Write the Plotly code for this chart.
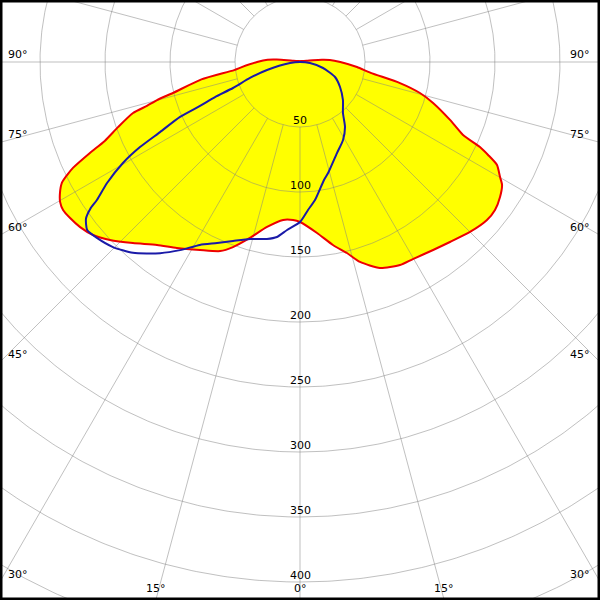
import numpy as np
import plotly.graph_objects as go

# C0-C180 plane (red outline, yellow fill): gamma in degrees (0 = straight down), intensity cd/klm
red_gamma = [-180, -140, -110, -100, -98, -96, -94, -90, -85, -83, -80, -76.3, -75.1, -74, -73,
             -70.3, -68, -66.6, -65, -64.1, -63.1, -61.4, -59.7, -58, -55.9, -53.1, -50.1, -46.9,
             -42.7, -38, -33.5, -28, -22.9, -19.9, -15.9, -11.3, -6.1, -2.5, 0, 5.7, 10.2, 13.8,
             16.7, 21.2, 26.2, 29.8, 35.3, 39.8, 45, 49.8, 52.8, 56, 58.7, 60.1, 62.4, 63.7, 64.7,
             65.9, 68.9, 72.9, 75.5, 78.1, 81.3, 85, 90, 94, 96, 98, 100, 110, 140, 180]
red_value = [0, 1, 2, 5, 10, 18, 25, 33, 45, 51, 77, 100.6, 113.8, 122.5, 134.3,
             148.7, 162, 176.1, 192.7, 199.2, 205.4, 210.3, 213.7, 214.9, 213.8, 211.5, 207.5, 200.3,
             189.5, 178.6, 171.6, 163.8, 157.9, 151.4, 140.7, 129.4, 122.2, 121.7, 123.1, 132.2, 143, 151.3,
             160.6, 170, 174.1, 174.7, 177.2, 180.2, 184.9, 188.3, 188.3, 185.6, 181.9, 177.5, 171, 161.4, 153.1,
             137.4, 123.7, 107.1, 95.3, 78.6, 55, 44, 31, 23, 17, 10, 5, 2, 1, 0]

# C90-C270 plane (blue outline)
blue_gamma = [-90, -84, -76.4, -72.3, -68.8, -67.6, -66.3, -65.4, -63.4, -62, -60.3, -57.9, -55.8,
              -55.0, -53.8, -51.7, -49.1, -45.3, -41.2, -36.2, -32.5, -28.7, -24.6, -20.5, -15.8,
              -10.6, -7.5, -4.4, 0, 3.1, 6.2, 11.5, 14.2, 22.1, 28.9, 34.7, 40.1, 48.5, 58, 66.8,
              75.4, 84, 90]
blue_value = [0, 7.7, 26.1, 40.4, 55.3, 70.7, 84, 101.5, 120.4, 139.4, 156.8, 175.2, 188.9,
              197.0, 204.0, 208.6, 206.7, 202.4, 195.1, 182.2, 171.6, 160.4, 153.2, 147, 141.5,
              138.5, 135.8, 129.6, 123.1, 114, 106.8, 92.6, 88.1, 75.6, 68.5, 60.8, 51.3, 44.1, 36.3, 29.3,
              18.3, 7.7, 0]

ring_values = [50, 100, 150, 200, 250, 300, 350, 400, 450]
ring_labels = ["50", "100", "150", "200", "250", "300", "350", "400"]
spoke_angles = list(range(-180, 180, 15))
left_angle_labels = [90, 75, 60, 45, 30]
bottom_angle_labels = [-15, 0, 15]
right_angle_labels = [30, 45, 60, 75, 90]

# visible window (in cd/klm units; 1.3 px per unit, pole at 300,62 px)
X_HALF = 300 / 1.3
Y_TOP = 62 / 1.3
Y_BOT = -538 / 1.3


def to_xy(gamma, value):
    g = np.radians(np.asarray(gamma, dtype=float))
    v = np.asarray(value, dtype=float)
    return v * np.sin(g), -v * np.cos(g)


fig = go.Figure()

rx, ry = to_xy(red_gamma, red_value)
bx, by = to_xy(blue_gamma, blue_value)

# yellow fill
fig.add_trace(go.Scatter(x=rx, y=ry, mode="lines", fill="toself", fillcolor="#ffff00",
                         line=dict(width=0, shape="spline", smoothing=0.6), hoverinfo="skip"))

# grid
gx, gy = [], []
t = np.linspace(0, 2 * np.pi, 721)
for rv in ring_values:
    gx += list(rv * np.sin(t)) + [None]
    gy += list(-rv * np.cos(t)) + [None]
for a in spoke_angles:
    x0, y0 = to_xy([a, a], [ring_values[0], 700])
    gx += list(x0) + [None]
    gy += list(y0) + [None]
fig.add_trace(go.Scatter(x=gx, y=gy, mode="lines", line=dict(color="rgba(130,130,130,0.5)", width=1),
                         hoverinfo="skip"))

# curves
fig.add_trace(go.Scatter(x=rx, y=ry, mode="lines",
                         line=dict(color="#ee0000", width=2, shape="spline", smoothing=0.6), hoverinfo="skip"))
fig.add_trace(go.Scatter(x=bx, y=by, mode="lines",
                         line=dict(color="#1a1aa8", width=2, shape="spline", smoothing=0.6), hoverinfo="skip"))

font = dict(family="DejaVu Sans, Verdana, sans-serif", size=11, color="black")
ann = []
for rv, lab in zip(ring_values, ring_labels):
    ann.append(dict(x=0, y=-rv, xref="x", yref="y", text=lab, showarrow=False,
                    xanchor="center", yanchor="bottom", yshift=-2, font=font))


def exit_point(a):
    g = np.radians(a)
    dx, dy = np.sin(g), -np.cos(g)
    ts = []
    if abs(dx) > 1e-9:
        ts.append((X_HALF if dx > 0 else -X_HALF) / dx)
    if dy < -1e-9:
        ts.append(Y_BOT / dy)
    tt = min(ts)
    return tt * dx, tt * dy


for a in left_angle_labels:
    ex, ey = exit_point(-a)
    ann.append(dict(x=ex, y=ey, xref="x", yref="y", text=f"{a}°", showarrow=False,
                    xanchor="left", yanchor="bottom", xshift=6, yshift=-1, font=font))
for a in right_angle_labels:
    ex, ey = exit_point(a)
    ann.append(dict(x=ex, y=ey, xref="x", yref="y", text=f"{a}°", showarrow=False,
                    xanchor="right", yanchor="bottom", xshift=-8, yshift=-1, font=font))
for a in bottom_angle_labels:
    ex, ey = exit_point(a)
    ann.append(dict(x=ex, y=ey, xref="x", yref="y", text=f"{abs(a)}°", showarrow=False,
                    xanchor="center", yanchor="bottom", yshift=3, font=font))

fig.update_layout(
    width=600, height=600,
    margin=dict(l=0, r=0, t=0, b=0),
    paper_bgcolor="white", plot_bgcolor="white",
    showlegend=False,
    xaxis=dict(range=[-X_HALF, X_HALF], visible=False, showgrid=False, zeroline=False, fixedrange=True),
    yaxis=dict(range=[Y_BOT, Y_TOP], visible=False, showgrid=False, zeroline=False, fixedrange=True),
    annotations=ann,
    shapes=[dict(type="rect", xref="paper", yref="paper", x0=0, y0=0, x1=1, y1=1,
                 line=dict(color="black", width=5), layer="above")],
)

fig.write_html("out.html", config={"displayModeBar": False},
               post_script="document.body.style.margin='0';document.body.style.overflow='hidden';")
